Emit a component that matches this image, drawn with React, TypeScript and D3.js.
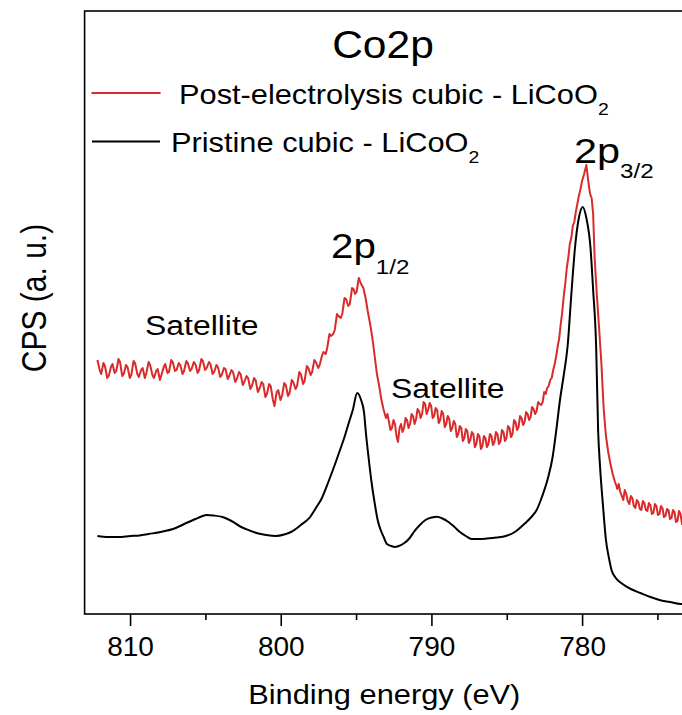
import React from 'react';
import * as d3 from 'd3';

// binding energy (eV) / intensity (a.u.)
const pristine: [number, number][] = [
  [812.2, 78], [811.5, 77], [810.8, 77], [810.0, 78], [809.4, 78.5], [808.8, 80], [808.0, 82],
  [807.0, 86], [806.3, 91], [805.7, 95], [805.3, 97.5], [804.95, 99], [804.5, 98.5], [803.9, 97],
  [803.3, 93], [802.66, 87], [802.1, 83.5], [801.64, 81], [801.0, 79], [800.37, 78], [799.8, 79.5],
  [799.35, 82], [798.7, 89], [798.08, 97], [797.7, 106], [797.3, 116], [796.9, 131], [796.5, 147],
  [796.1, 164], [795.8, 177], [795.5, 192], [795.25, 204], [794.96, 221], [794.7, 214], [794.5, 201],
  [794.38, 181], [794.2, 156], [794.0, 131], [793.8, 111], [793.6, 94], [793.4, 84], [793.2, 77],
  [792.99, 70], [792.7, 68], [792.47, 67], [792.2, 68], [791.83, 71], [791.5, 75.5], [791.2, 82],
  [790.8, 89], [790.43, 94], [790.0, 96.5], [789.67, 97.3], [789.3, 95.5], [788.9, 92], [788.5, 87],
  [788.14, 82], [787.7, 77.5], [787.37, 75], [786.9, 75], [786.36, 75.5], [785.7, 76.5], [785.1, 78],
  [784.5, 82], [783.8, 91], [783.4, 97], [783.05, 104], [782.7, 117], [782.28, 137], [782.0, 156],
  [781.77, 181], [781.5, 214], [781.25, 239], [781.0, 267], [780.75, 319], [780.5, 367], [780.25, 396],
  [779.99, 407], [779.75, 396], [779.48, 367], [779.3, 324], [779.1, 267], [778.97, 184], [778.84, 147],
  [778.65, 109], [778.45, 74], [778.25, 56], [778.08, 44], [777.8, 36], [777.44, 31], [776.8, 25],
  [776.16, 21], [775.5, 17], [774.9, 14], [774.2, 12], [773.5, 10], [773.3, 10],
];

const postElectrolysis: [number, number][] = [
  [812.2, 254], [812.05, 244], [811.95, 240], [811.8, 251], [811.7, 248], [811.55, 236], [811.45, 238],
  [811.3, 247], [811.2, 250], [811.05, 241], [810.95, 243], [810.8, 255], [810.7, 252], [810.55, 238],
  [810.45, 240], [810.3, 249], [810.2, 247], [810.05, 236], [809.95, 239], [809.8, 253], [809.7, 251],
  [809.55, 240], [809.45, 237], [809.3, 244], [809.2, 246], [809.05, 236], [808.95, 241], [808.8, 252],
  [808.7, 249], [808.55, 239], [808.45, 236], [808.3, 243], [808.2, 245], [808.05, 234], [807.95, 239],
  [807.8, 247], [807.7, 250], [807.55, 241], [807.45, 242], [807.3, 254], [807.2, 252], [807.05, 243],
  [806.95, 244], [806.8, 251], [806.7, 249], [806.55, 240], [806.45, 243], [806.3, 253], [806.2, 251],
  [806.05, 243], [805.95, 245], [805.8, 252], [805.7, 250], [805.55, 241], [805.45, 244], [805.3, 255],
  [805.2, 253], [805.05, 244], [804.95, 246], [804.8, 252], [804.7, 250], [804.55, 240], [804.45, 242],
  [804.3, 249], [804.2, 247], [804.05, 237], [803.95, 239], [803.8, 246], [803.7, 245], [803.55, 235],
  [803.45, 238], [803.3, 244], [803.2, 242], [803.05, 232], [802.95, 235], [802.8, 242], [802.7, 240],
  [802.55, 229], [802.45, 232], [802.3, 238], [802.2, 236], [802.05, 225], [801.95, 228], [801.8, 236],
  [801.7, 234], [801.55, 222], [801.45, 225], [801.3, 232], [801.2, 230], [801.05, 217], [800.95, 220],
  [800.8, 230], [800.7, 228], [800.55, 214], [800.45, 208], [800.3, 222], [800.2, 224], [800.05, 214],
  [799.95, 218], [799.8, 231], [799.7, 229], [799.55, 218], [799.45, 221], [799.3, 234], [799.2, 232],
  [799.05, 225], [798.95, 228], [798.8, 242], [798.7, 240], [798.55, 230], [798.45, 233], [798.3, 248],
  [798.2, 246], [798.05, 239], [797.95, 242], [797.8, 254], [797.7, 252], [797.55, 246], [797.45, 249],
  [797.3, 258], [797.2, 262], [797.05, 260], [796.95, 266], [796.8, 280], [796.7, 278], [796.55, 280],
  [796.45, 284], [796.3, 300], [796.2, 298], [796.05, 296], [795.95, 300], [795.8, 316], [795.7, 315],
  [795.55, 308], [795.45, 310], [795.3, 326], [795.2, 325], [795.1, 320], [795.0, 322], [794.85, 336],
  [794.7, 330], [794.55, 326], [794.4, 316], [794.25, 302], [794.1, 290], [793.95, 276], [793.8, 258],
  [793.65, 240], [793.5, 228], [793.35, 214], [793.2, 204], [793.05, 196], [792.95, 200], [792.85, 192],
  [792.75, 184], [792.65, 186], [792.55, 194], [792.45, 190], [792.35, 178], [792.25, 172], [792.15, 186],
  [792.05, 190], [791.95, 182], [791.85, 186], [791.75, 196], [791.65, 194], [791.55, 186], [791.45, 190],
  [791.35, 200], [791.25, 198], [791.15, 190], [791.05, 195], [790.95, 205], [790.85, 203], [790.75, 196],
  [790.65, 200], [790.55, 212], [790.45, 210], [790.35, 200], [790.25, 204], [790.15, 211], [790.05, 208],
  [789.95, 196], [789.85, 198], [789.75, 206], [789.65, 204], [789.55, 191], [789.45, 194], [789.35, 203],
  [789.25, 200], [789.15, 187], [789.05, 190], [788.95, 198], [788.85, 195], [788.75, 183], [788.65, 186],
  [788.55, 193], [788.45, 190], [788.35, 177], [788.25, 180], [788.15, 188], [788.05, 186], [787.95, 173],
  [787.85, 176], [787.75, 185], [787.65, 183], [787.55, 171], [787.45, 174], [787.35, 182], [787.25, 180],
  [787.15, 167], [787.05, 170], [786.95, 180], [786.85, 178], [786.75, 165], [786.65, 168], [786.55, 178],
  [786.45, 176], [786.35, 167], [786.25, 170], [786.15, 180], [786.05, 178], [785.95, 169], [785.85, 172],
  [785.75, 182], [785.65, 180], [785.55, 170], [785.45, 173], [785.35, 184], [785.25, 182], [785.15, 173],
  [785.05, 176], [784.95, 188], [784.85, 186], [784.75, 177], [784.65, 180], [784.55, 194], [784.45, 192],
  [784.35, 184], [784.25, 187], [784.15, 198], [784.05, 196], [783.95, 189], [783.85, 192], [783.75, 202],
  [783.65, 200], [783.55, 194], [783.45, 197], [783.35, 207], [783.25, 205], [783.15, 200], [783.05, 203],
  [782.95, 212], [782.85, 210], [782.75, 209], [782.65, 212], [782.55, 222], [782.45, 220], [782.35, 226],
  [782.25, 228], [782.15, 234], [782.05, 236], [781.95, 244], [781.85, 250], [781.75, 258], [781.65, 268],
  [781.55, 276], [781.45, 290], [781.35, 302], [781.25, 318], [781.15, 330], [781.05, 346], [780.95, 356],
  [780.85, 370], [780.75, 376], [780.65, 388], [780.55, 392], [780.45, 402], [780.35, 410], [780.25, 418],
  [780.15, 424], [780.05, 432], [779.9, 440], [779.75, 449], [779.6, 430], [779.5, 420], [779.4, 416],
  [779.3, 400], [779.2, 356], [779.05, 318], [778.9, 285], [778.75, 250], [778.6, 205], [778.45, 178],
  [778.3, 162], [778.15, 150], [778.0, 140], [777.85, 132], [777.75, 128], [777.7, 125], [777.6, 130],
  [777.5, 122], [777.4, 118], [777.3, 114], [777.2, 124], [777.1, 120], [777.0, 113], [776.9, 110],
  [776.8, 118], [776.7, 116], [776.6, 108], [776.5, 106], [776.4, 114], [776.3, 112], [776.2, 105],
  [776.1, 104], [776.0, 113], [775.9, 111], [775.8, 104], [775.7, 103], [775.6, 111], [775.5, 109],
  [775.4, 100], [775.3, 101], [775.2, 110], [775.1, 108], [775.0, 99], [774.9, 100], [774.8, 108],
  [774.7, 106], [774.6, 97], [774.5, 98], [774.4, 105], [774.3, 104], [774.2, 95], [774.1, 96],
  [774.0, 104], [773.9, 102], [773.8, 92], [773.7, 93], [773.6, 103], [773.5, 100], [773.4, 90],
  [773.3, 95],
];

const majorTicks = [810, 800, 790, 780];
const minorTicks = [805, 795, 785, 775];

const RED = '#d92b2b';
const FONT = 'Liberation Sans, Arial, Helvetica, sans-serif';

const W = 682;
const H = 715;
const left = 84.6, right = 684, top = 11, bottom = 614;

// text with a horizontal stretch, as the source figure is a bit wide
const T = ({ x, y, size, sx = 1, anchor = 'start', children, rotate = 0 }: any) => (
  <g transform={`translate(${x},${y}) scale(${sx},1)${rotate ? ` rotate(${rotate})` : ''}`}>
    <text x={0} y={0} fontSize={size} textAnchor={anchor} fontFamily={FONT} fill="#000">
      {children}
    </text>
  </g>
);

export default function App() {
  const x = d3.scaleLinear().domain([813.05, 773.27]).range([left, right]);
  const y = d3.scaleLinear().domain([0, 603]).range([bottom, top]);

  const line = d3.line<[number, number]>().x(d => x(d[0])).y(d => y(d[1]));
  const smooth = d3.line<[number, number]>().x(d => x(d[0])).y(d => y(d[1])).curve(d3.curveMonotoneX);

  return (
    <svg width={W} height={H} style={{ position: 'absolute', left: 0, top: 0, background: '#fff' }}>
      <defs>
        <clipPath id="plot">
          <rect x={left} y={top} width={right - left} height={bottom - top} />
        </clipPath>
      </defs>

      <g clipPath="url(#plot)">
        <path d={smooth(pristine) || ''} fill="none" stroke="#000" strokeWidth={2} />
        <path d={line(postElectrolysis) || ''} fill="none" stroke={RED} strokeWidth={2} strokeLinejoin="round" />
      </g>

      {/* frame */}
      <rect x={left} y={top} width={right - left} height={bottom - top} fill="none" stroke="#000" strokeWidth={1.6} />

      {/* x axis ticks */}
      {majorTicks.map(t => (
        <g key={t}>
          <line x1={x(t)} x2={x(t)} y1={bottom} y2={bottom + 12} stroke="#000" strokeWidth={1.6} />
          <T x={x(t)} y={656} size={28} anchor="middle">{t}</T>
        </g>
      ))}
      {minorTicks.map(t => (
        <line key={t} x1={x(t)} x2={x(t)} y1={bottom} y2={bottom + 6} stroke="#000" strokeWidth={1.6} />
      ))}

      <T x={(left + right) / 2} y={704} size={28} sx={1.1} anchor="middle">Binding energy (eV)</T>
      <T x={46} y={298} size={30} sx={1.15} anchor="middle" rotate={-90}>CPS (a. u.)</T>

      {/* title + legend */}
      <T x={383} y={58} size={38} sx={1.12} anchor="middle">Co2p</T>
      <line x1={91.5} x2={160.6} y1={93} y2={93} stroke={RED} strokeWidth={2} />
      <T x={179} y={104} size={27} sx={1.14}>
        Post-electrolysis cubic - LiCoO<tspan fontSize={17} dy={11}>2</tspan>
      </T>
      <line x1={92} x2={160} y1={141.5} y2={141.5} stroke="#000" strokeWidth={2} />
      <T x={171} y={152} size={27} sx={1.14}>
        Pristine cubic - LiCoO<tspan fontSize={17} dy={11}>2</tspan>
      </T>

      {/* peak annotations */}
      <T x={574} y={163} size={36} sx={1.15}>
        2p<tspan fontSize={21} dy={15}>3/2</tspan>
      </T>
      <T x={331} y={258} size={35} sx={1.15}>
        2p<tspan fontSize={21} dy={16}>1/2</tspan>
      </T>
      <T x={145} y={335} size={28} sx={1.14}>Satellite</T>
      <T x={391} y={398} size={28} sx={1.14}>Satellite</T>
    </svg>
  );
}
